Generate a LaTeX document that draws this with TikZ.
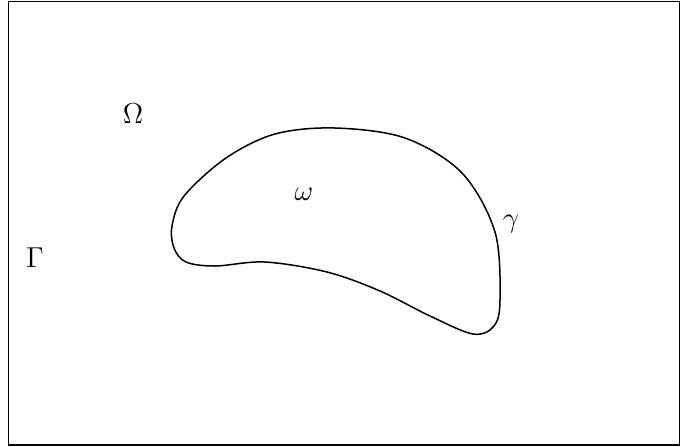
\documentclass[tikz,border=0pt]{standalone}
\begin{document}
\begin{tikzpicture}[x=0.5pt,y=-0.5pt,
  lbl/.style={inner sep=0pt,anchor=base,font=\fontsize{15}{18}\selectfont},
  frame/.style={line width=0.65pt},
  boundary/.style={line width=0.75pt}]
\useasboundingbox (0,0) rectangle (680,446);
\draw[frame] (8.5,1.5) rectangle (680,445);
\draw[boundary] plot[smooth cycle,tension=0.55] coordinates {
  (172,226) (184,196) (226,158) (275,134) (335,128)
  (405,138) (462,173) (495,232) (500,300) (494,326) (473,334)
  (430,316) (380,291) (327,272) (265,262) (215,266) (186,262) (174,248)};
\node[lbl] (Om) at (133,123) {$\Omega$};
\node[lbl] (Ga) at (35,267) {$\Gamma$};
\node[lbl] (om) at (304,200) {$\omega$};
\node[lbl] (ga) at (511,227) {$\gamma$};
\end{tikzpicture}
\end{document}
